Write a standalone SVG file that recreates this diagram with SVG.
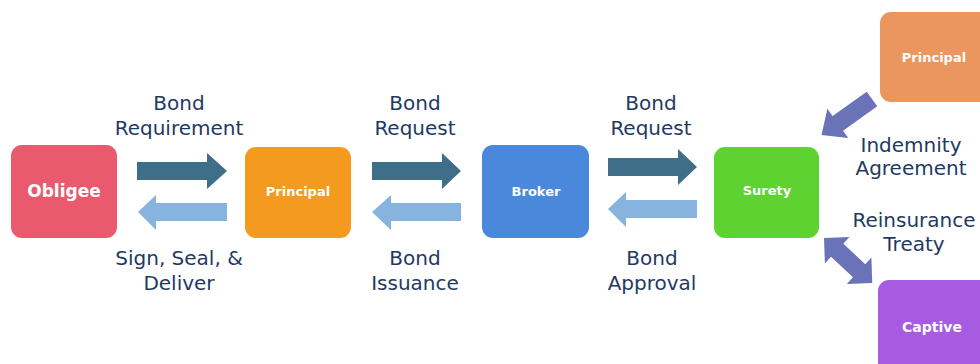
<svg xmlns="http://www.w3.org/2000/svg" width="980" height="364" viewBox="0 0 980 364">
  <style>
    .lbl { font-family: "DejaVu Sans", "Liberation Sans", sans-serif; font-size: 20px; fill: #1F3A62; text-anchor: middle; }
    .nodetxt { font-family: "DejaVu Sans", "Liberation Sans", sans-serif; font-weight: bold; fill: #FFFFFF; text-anchor: middle; }
    .fwd { fill: #3E6E88; }
    .back { fill: #86B4DF; }
    .diag { fill: #6A73B8; }
  </style>
  <rect width="980" height="364" fill="#FFFFFF"/>

  <!-- nodes -->
  <g id="obligee">
    <rect x="11" y="145" width="106" height="93" rx="11" fill="#EA5A6F"/>
    <text class="nodetxt" x="64" y="197" font-size="17">Obligee</text>
  </g>
  <g id="principal">
    <rect x="245" y="147" width="106" height="91" rx="11" fill="#F39A1F"/>
    <text class="nodetxt" x="298" y="196" font-size="13">Principal</text>
  </g>
  <g id="broker">
    <rect x="482" y="145" width="107" height="93" rx="11" fill="#4A88DC"/>
    <text class="nodetxt" x="536" y="196" font-size="13">Broker</text>
  </g>
  <g id="surety">
    <rect x="714" y="147" width="105" height="91" rx="11" fill="#5ED231"/>
    <text class="nodetxt" x="767" y="195" font-size="13">Surety</text>
  </g>
  <g id="principal-indemnitor">
    <rect x="880" y="12" width="115" height="90" rx="11" fill="#EC965F"/>
    <text class="nodetxt" x="934" y="62" font-size="13">Principal</text>
  </g>
  <g id="captive">
    <rect x="878" y="280" width="115" height="100" rx="11" fill="#A65BE0"/>
    <text class="nodetxt" x="932" y="332" font-size="14">Captive</text>
  </g>

  <!-- connectors -->
  <g id="connectors">
    <polygon class="fwd" points="137,162 207,162 207,153 227,171 207,189 207,180 137,180"/>
    <polygon class="back" points="227,203 156,203 156,195 138,212 156,230 156,221 227,221"/>
    <polygon class="fwd" points="372,162 442,162 442,153 461,171 442,189 442,180 372,180"/>
    <polygon class="back" points="461,203 391,203 391,195 372,212 391,230 391,221 461,221"/>
    <polygon class="fwd" points="608,158 678,158 678,149 697,167 678,185 678,176 608,176"/>
    <polygon class="back" points="697,200 626,200 626,192 608,209 626,227 626,218 697,218"/>
    <polygon class="diag" transform="translate(872,99) rotate(144.5)" points="0,-9 42,-9 42,-18 62,0 42,18 42,9 0,9"/>
    <polygon class="diag" transform="translate(824,238) rotate(43)" points="0,0 18,-18 18,-9 48,-9 48,-18 66,0 48,18 48,9 18,9 18,18"/>
  </g>

  <!-- connector labels -->
  <g id="labels">
    <text class="lbl" x="179" y="110">Bond</text>
    <text class="lbl" x="179" y="135">Requirement</text>
    <text class="lbl" x="179" y="265">Sign, Seal, &amp;</text>
    <text class="lbl" x="179" y="290">Deliver</text>
    <text class="lbl" x="415" y="110">Bond</text>
    <text class="lbl" x="415" y="135">Request</text>
    <text class="lbl" x="415" y="265">Bond</text>
    <text class="lbl" x="415" y="290">Issuance</text>
    <text class="lbl" x="651" y="110">Bond</text>
    <text class="lbl" x="651" y="135">Request</text>
    <text class="lbl" x="652" y="265">Bond</text>
    <text class="lbl" x="652" y="290">Approval</text>
    <text class="lbl" x="911" y="152">Indemnity</text>
    <text class="lbl" x="911" y="175">Agreement</text>
    <text class="lbl" x="914" y="227">Reinsurance</text>
    <text class="lbl" x="914" y="251">Treaty</text>
  </g>
</svg>
